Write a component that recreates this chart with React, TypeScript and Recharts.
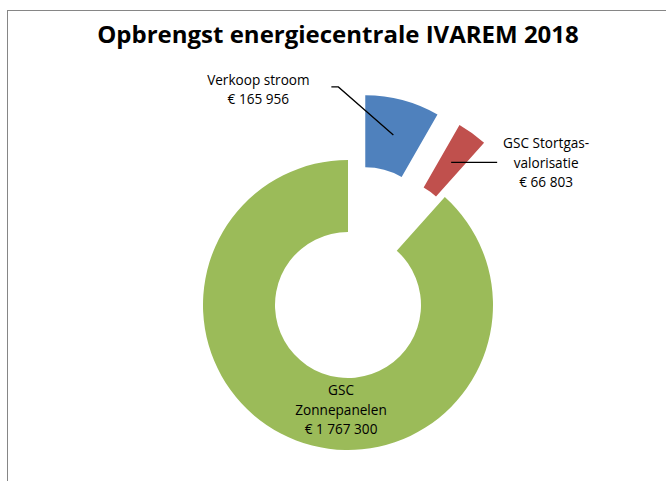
import React from "react";
import { PieChart, Pie, Cell, Sector } from "recharts";

const names = ["Verkoop stroom", "GSC Stortgas-valorisatie", "GSC Zonnepanelen"];
const values = [165956, 66803, 1767300];
const labelLines = [
    ["Verkoop stroom", "€ 165 956"],
    ["GSC Stortgas-", "valorisatie", "€ 66 803"],
    ["GSC", "Zonnepanelen", "€ 1 767 300"],
];
const exploded = [true, true, false];
const colors = ["#4F81BD", "#C0504D", "#9BBB59"];

const data = names.map((name, i) => ({ name, value: values[i], idx: i }));

const RAD = Math.PI / 180;
const EXPLODE = 67;
const FONT = "'Open Sans', 'Noto Sans', sans-serif";

// label placement relative to the slice centroid
const labelLayout = [
    { tx: -135, ty: [-50, -31], line: [[-55, -48], [-62, -48]] },
    { tx: 95, ty: [-14, 6, 25], line: [[46, 0]] },
    { tx: 32, ty: [-12, 8, 27], line: [] },
];

function shift(mid: number, i: number) {
    if (!exploded[i]) return { dx: 0, dy: 0 };
    return { dx: EXPLODE * Math.cos(-mid * RAD), dy: EXPLODE * Math.sin(-mid * RAD) };
}

const renderShape = (props: any) => {
    const i = props.payload?.idx ?? props.idx ?? 0;
    const { dx, dy } = shift(props.midAngle, i);
    return (
        <Sector
            cx={props.cx + dx}
            cy={props.cy + dy}
            innerRadius={props.innerRadius}
            outerRadius={props.outerRadius}
            startAngle={props.startAngle}
            endAngle={props.endAngle}
            fill={props.fill}
            stroke="none"
        />
    );
};

const renderLabel = (props: any) => {
    const i = props.index;
    const { dx, dy } = shift(props.midAngle, i);
    const r = (props.innerRadius + props.outerRadius) / 2;
    const ax = props.cx + dx + r * Math.cos(-props.midAngle * RAD);
    const ay = props.cy + dy + r * Math.sin(-props.midAngle * RAD);
    const L = labelLayout[i];
    const pts = [[0, 0], ...L.line].map(([x, y]) => `${ax + x},${ay + y}`).join(" ");
    return (
        <g key={`lbl-${i}`}>
            {L.line.length > 0 && <polyline points={pts} fill="none" stroke="#000" strokeWidth={1.3} />}
            {labelLines[i].map((t, k) => (
                <text key={k} x={ax + L.tx} y={ay + L.ty[k]} textAnchor="middle" fontSize={13.6} fontFamily={FONT} fill="#000">
                    {t}
                </text>
            ))}
        </g>
    );
};

export default function App() {
    return (
        <div style={{ position: "absolute", left: 0, top: 0, width: 666, height: 481, overflow: "hidden", background: "#fff" }}>
            <div style={{ position: "absolute", left: 7, top: 10, width: 680, height: 500, border: "1px solid #868686" }} />
            <PieChart
                width={666}
                height={481}
                margin={{ top: 0, right: 0, bottom: 0, left: 0 }}
                style={{ position: "absolute", left: 0, top: 0 }}
            >
                <text x={338} y={43} textAnchor="middle" fontSize={24} fontWeight={700} fontFamily={FONT} fill="#000">
                    Opbrengst energiecentrale IVAREM 2018
                </text>
                <Pie
                    data={data}
                    dataKey="value"
                    nameKey="name"
                    cx={348}
                    cy={305}
                    innerRadius={73}
                    outerRadius={145}
                    startAngle={90}
                    endAngle={-270}
                    paddingAngle={0}
                    stroke="none"
                    shape={renderShape}
                    label={renderLabel}
                    labelLine={false}
                    isAnimationActive={false}
                >
                    {data.map((d, i) => (
                        <Cell key={d.name} fill={colors[i]} />
                    ))}
                </Pie>
            </PieChart>
        </div>
    );
}
